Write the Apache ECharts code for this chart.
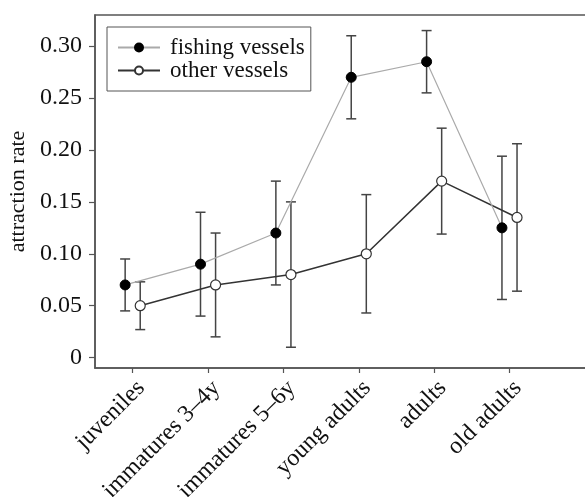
<!DOCTYPE html>
<html>
<head>
<meta charset="utf-8">
<script src="https://cdn.jsdelivr.net/npm/echarts@6/dist/echarts.min.js"></script>
<style>
  html, body { margin: 0; padding: 0; background: #fff; }
  #chart { width: 585px; height: 497px; }
</style>
</head>
<body>
<div id="chart"></div>
<script>
// age classes on the x axis
var categories = ['juveniles', 'immatures 3\u20134y', 'immatures 5\u20136y', 'young adults', 'adults', 'old adults'];
var yTicks = [0, 0.05, 0.10, 0.15, 0.20, 0.25, 0.30];

// fishing vessels: mean, lower, upper
var fishingRate = [0.07, 0.09, 0.12, 0.27, 0.285, 0.125];
var fishingLow = [0.045, 0.04, 0.07, 0.23, 0.255, 0.056];
var fishingHigh = [0.095, 0.14, 0.17, 0.31, 0.315, 0.194];

// other vessels: mean, lower, upper
var otherRate = [0.05, 0.07, 0.08, 0.10, 0.17, 0.135];
var otherLow = [0.027, 0.02, 0.01, 0.043, 0.119, 0.064];
var otherHigh = [0.073, 0.12, 0.15, 0.157, 0.221, 0.206];

var dodge = 0.1; // horizontal offset between the two groups
var font = 'Liberation Serif';

function points(vals, off) {
  return vals.map(function (v, i) { return [i + off, v]; });
}
function bars(lo, hi, off) {
  return lo.map(function (v, i) { return [i + off, v, hi[i]]; });
}

function renderErr(params, api) {
  var x = api.value(0);
  var p1 = api.coord([x, api.value(1)]);
  var p2 = api.coord([x, api.value(2)]);
  var cap = 5;
  var st = { stroke: '#444', lineWidth: 1.5 };
  return {
    type: 'group',
    children: [
      { type: 'line', shape: { x1: p1[0], y1: p1[1], x2: p2[0], y2: p2[1] }, style: st },
      { type: 'line', shape: { x1: p1[0] - cap, y1: p1[1], x2: p1[0] + cap, y2: p1[1] }, style: st },
      { type: 'line', shape: { x1: p2[0] - cap, y1: p2[1], x2: p2[0] + cap, y2: p2[1] }, style: st }
    ]
  };
}

var chart = echarts.init(document.getElementById('chart'), null, { renderer: 'canvas' });

var option = {
  animation: false,
  backgroundColor: '#fff',
  textStyle: { fontFamily: font },
  grid: {
    left: 95, top: 15, width: 520, height: 353,
    outerBoundsMode: 'none',
    show: true, borderColor: '#555', borderWidth: 1.5
  },
  legend: {
    orient: 'vertical',
    left: 107, top: 27,
    padding: [9, 6, 9, 10],
    itemGap: 0,
    itemWidth: 42,
    itemHeight: 10,
    borderColor: '#555',
    borderWidth: 1,
    textStyle: { fontFamily: font, fontSize: 23, color: '#111', padding: [0, 0, 0, 5] },
    data: ['fishing vessels', 'other vessels']
  },
  xAxis: {
    type: 'value',
    min: -0.5, max: 6.4,
    splitLine: { show: false },
    axisLine: { show: true, onZero: false, lineStyle: { color: '#555', width: 1.5 } },
    axisTick: { show: true, length: 5, lineStyle: { color: '#555', width: 1.2 }, customValues: [0, 1, 2, 3, 4, 5] },
    axisLabel: {
      customValues: [0, 1, 2, 3, 4, 5],
      rotate: 45,
      margin: 8,
      verticalAlign: 'top',
      fontFamily: font, fontSize: 24, color: '#111',
      formatter: function (v) { return categories[Math.round(v)]; }
    }
  },
  yAxis: {
    type: 'value',
    min: -0.01, max: 0.33,
    name: 'attraction rate',
    nameLocation: 'middle',
    nameGap: 61,
    nameTextStyle: { fontFamily: font, fontSize: 22, color: '#111' },
    splitLine: { show: false },
    axisLine: { show: true, onZero: false, lineStyle: { color: '#555', width: 1.5 } },
    axisTick: { show: true, length: 6, lineStyle: { color: '#555', width: 1.2 }, customValues: yTicks },
    axisLabel: {
      customValues: yTicks,
      margin: 13,
      fontFamily: font, fontSize: 24, color: '#111',
      formatter: function (v) { return v === 0 ? '0' : v.toFixed(2); }
    }
  },
  series: [
    {
      type: 'custom', name: 'errFishing', renderItem: renderErr,
      data: bars(fishingLow, fishingHigh, -dodge), z: 1, silent: true
    },
    {
      type: 'custom', name: 'errOther', renderItem: renderErr,
      data: bars(otherLow, otherHigh, dodge), z: 1, silent: true
    },
    {
      name: 'fishing vessels', type: 'line', z: 3,
      data: points(fishingRate, -dodge),
      symbol: 'circle', symbolSize: 10,
      itemStyle: { color: '#000', borderColor: '#000', borderWidth: 1 },
      lineStyle: { color: '#aaa', width: 1.2 }
    },
    {
      name: 'other vessels', type: 'line', z: 2,
      data: points(otherRate, dodge),
      symbol: 'circle', symbolSize: 10,
      itemStyle: { color: '#fff', borderColor: '#333', borderWidth: 1.2 },
      lineStyle: { color: '#333', width: 1.5 }
    }
  ]
};

chart.setOption(option);
</script>
</body>
</html>
